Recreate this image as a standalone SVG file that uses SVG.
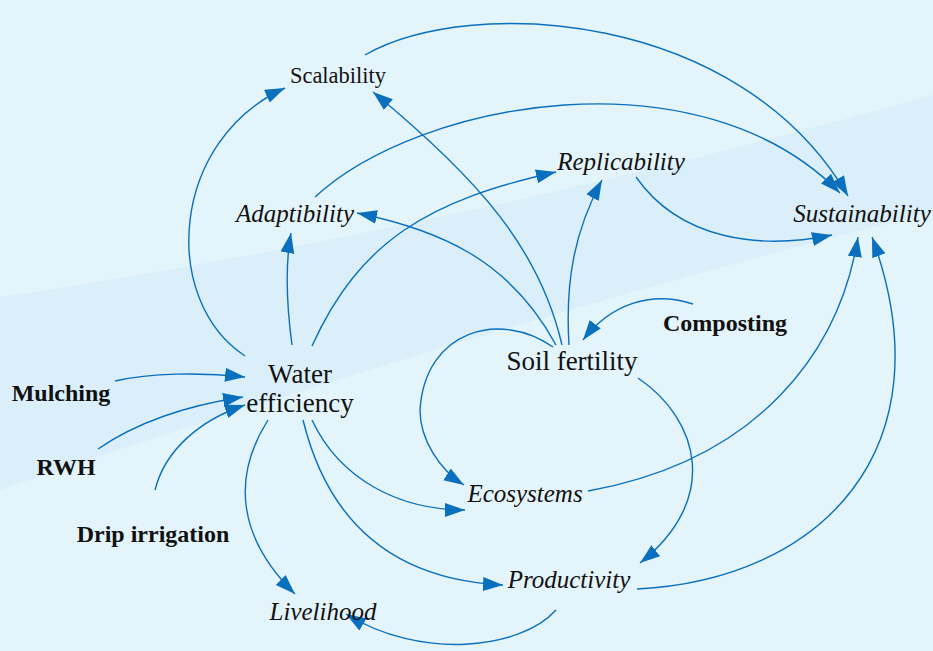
<svg xmlns="http://www.w3.org/2000/svg" width="933" height="651" viewBox="0 0 933 651">
<defs>
<marker id="ah" markerUnits="userSpaceOnUse" markerWidth="24" markerHeight="16" refX="20" refY="7" orient="auto">
<path d="M0,0 L20,7 L0,14 Z" fill="#0a70be"/>
</marker>
</defs>
<rect width="933" height="651" fill="#e4f4fb"/>
<path d="M0,297 Q450,230 933,95 L933,212 Q500,320 0,490 Z" fill="#daeff9"/>
<g id="connectors" fill="none" stroke="#0a70be" stroke-width="1.4" marker-end="url(#ah)">
<path d="M365,55 C470,-5 740,10 848,196"/>
<path d="M315,197 C420,100 700,50 840,193"/>
<path d="M636,177 C680,240 760,250 832,235"/>
<path d="M588,491 C760,460 840,350 858,237"/>
<path d="M637,589 C820,580 950,450 872,237"/>
<path d="M245,356 C160,300 170,140 285,88"/>
<path d="M292,345 C286,300 286,260 291,233"/>
<path d="M312,346 C360,240 430,200 556,172"/>
<path d="M562,345 C540,250 480,180 373,92"/>
<path d="M556,345 C510,260 440,230 357,213"/>
<path d="M569,345 C565,280 575,230 602,180"/>
<path d="M553,347 C500,310 425,330 420,410 C420,440 440,470 464,485"/>
<path d="M638,378 C700,420 720,500 640,563"/>
<path d="M693,304 C650,290 610,305 583,340"/>
<path d="M115,381 C150,373 200,372 245,377"/>
<path d="M98,449 C140,420 190,405 243,397"/>
<path d="M155,490 C165,450 200,420 245,405"/>
<path d="M312,420 C340,480 400,510 465,510"/>
<path d="M303,420 C330,530 400,580 503,585"/>
<path d="M268,420 C230,480 240,540 295,594"/>
<path d="M556,610 C520,650 420,660 346,614"/>
</g>
<g id="scalability"><text x="338" y="83" font-family="'Liberation Serif'" font-size="22.5" fill="#111" text-anchor="middle">Scalability</text></g>
<g id="adaptibility"><text x="295" y="222" font-family="'Liberation Serif'" font-style="italic" font-size="25" fill="#111" text-anchor="middle">Adaptibility</text></g>
<g id="replicability"><text x="621" y="170" font-family="'Liberation Serif'" font-style="italic" font-size="25" fill="#111" text-anchor="middle">Replicability</text></g>
<g id="sustainability"><text x="862" y="222" font-family="'Liberation Serif'" font-style="italic" font-size="25" fill="#111" text-anchor="middle">Sustainability</text></g>
<g id="water"><text x="300" y="383" font-family="'Liberation Serif'" font-size="27" fill="#111" text-anchor="middle">Water</text><text x="300" y="412" font-family="'Liberation Serif'" font-size="27" fill="#111" text-anchor="middle">efficiency</text></g>
<g id="soil"><text x="572" y="370" font-family="'Liberation Serif'" font-size="27" fill="#111" text-anchor="middle">Soil fertility</text></g>
<g id="composting"><text x="725" y="331" font-family="'Liberation Serif'" font-weight="bold" font-size="24" fill="#111" text-anchor="middle">Composting</text></g>
<g id="mulching"><text x="61" y="401" font-family="'Liberation Serif'" font-weight="bold" font-size="24" fill="#111" text-anchor="middle">Mulching</text></g>
<g id="rwh"><text x="66" y="475" font-family="'Liberation Serif'" font-weight="bold" font-size="24" fill="#111" text-anchor="middle">RWH</text></g>
<g id="drip"><text x="153" y="542" font-family="'Liberation Serif'" font-weight="bold" font-size="24" fill="#111" text-anchor="middle">Drip irrigation</text></g>
<g id="ecosystems"><text x="525" y="502" font-family="'Liberation Serif'" font-style="italic" font-size="25" fill="#111" text-anchor="middle">Ecosystems</text></g>
<g id="productivity"><text x="569" y="588" font-family="'Liberation Serif'" font-style="italic" font-size="25" fill="#111" text-anchor="middle">Productivity</text></g>
<g id="livelihood"><text x="323" y="620" font-family="'Liberation Serif'" font-style="italic" font-size="25" fill="#111" text-anchor="middle">Livelihood</text></g>
</svg>
